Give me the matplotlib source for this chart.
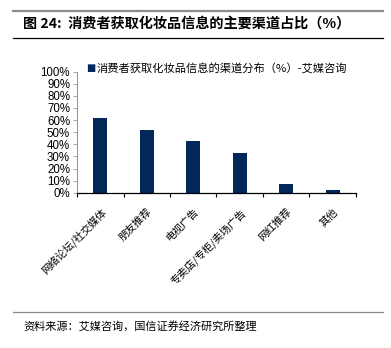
import matplotlib
matplotlib.use("Agg")
import matplotlib.pyplot as plt
from matplotlib.lines import Line2D
from matplotlib.ticker import PercentFormatter

plt.rcParams["font.family"] = ["Noto Sans CJK SC", "DejaVu Sans"]

CJK = ["Noto Sans CJK SC", "DejaVu Sans"]
NUM = ["Liberation Sans", "Noto Sans CJK SC"]

channels = ["网络论坛/社交媒体", "朋友推荐", "电视广告", "专卖店/专柜/卖场广告", "网红推荐", "其他"]
shares = [62.0, 51.5, 42.5, 32.5, 7.5, 2.0]
y_ticks = list(range(0, 101, 10))

title = "图 24:  消费者获取化妆品信息的主要渠道占比（%）"
series_name = "消费者获取化妆品信息的渠道分布（%）-艾媒咨询"
source = "资料来源：艾媒咨询，国信证券经济研究所整理"

bar_color = "#02285a"

fig = plt.figure(figsize=(3.91, 3.48), dpi=100)

# header / footer rules
fig.add_artist(Line2D([13 / 391, 383 / 391], [1 - 11 / 348] * 2, color="#8c8c8c", lw=1.6))
fig.add_artist(Line2D([13 / 391, 383 / 391], [1 - 38 / 348] * 2, color="black", lw=0.9))
fig.add_artist(Line2D([13 / 391, 383 / 391], [1 - 312 / 348] * 2, color="#8c8c8c", lw=0.9))
fig.text(23 / 391, 1 - 24 / 348, title, fontsize=10.2, fontweight="bold", va="center", ha="left", family=CJK)
fig.text(23 / 391, 1 - 326 / 348, source, fontsize=8, va="center", ha="left", family=CJK)

ax = fig.add_axes([77 / 391, 1 - 192.7 / 348, (356 - 77) / 391, (192.7 - 71.7) / 348])
x = range(len(channels))
ax.bar(x, shares, width=0.3, color=bar_color)
ax.set_xlim(-0.5, len(channels) - 0.5)
ax.set_ylim(0, 100)
ax.set_yticks(y_ticks)
ax.yaxis.set_major_formatter(PercentFormatter(decimals=0))
for lbl in ax.get_yticklabels():
    lbl.set_family(NUM)
    lbl.set_fontsize(8.3)
ax.tick_params(axis="y", length=3, width=0.6, color="#8a9bb0", pad=2)

# category boundary ticks on x axis
ax.set_xticks([i - 0.5 for i in range(len(channels) + 1)], minor=False)
ax.set_xticklabels([])
ax.tick_params(axis="x", length=3, width=0.8, direction="out", color="black")
ax.set_xticks(list(x), minor=True)
ax.set_xticklabels(channels, minor=True, rotation=45, ha="right", va="top",
                   rotation_mode="anchor", fontsize=7.5, family=CJK)
ax.tick_params(axis="x", which="minor", length=0, pad=10)

for side in ("top", "right"):
    ax.spines[side].set_visible(False)
ax.spines["left"].set_color("#8a9bb0")
ax.spines["left"].set_linewidth(0.8)
ax.spines["bottom"].set_color("black")
ax.spines["bottom"].set_linewidth(0.9)

# legend entry
fig.text(86 / 391, 1 - 68 / 348, "■", color=bar_color, fontsize=7, va="center", ha="left", family=["DejaVu Sans"])
fig.text(97 / 391, 1 - 68 / 348, series_name, fontsize=8.1, va="center", ha="left", family=CJK)

fig.savefig("out.png", dpi=100)
